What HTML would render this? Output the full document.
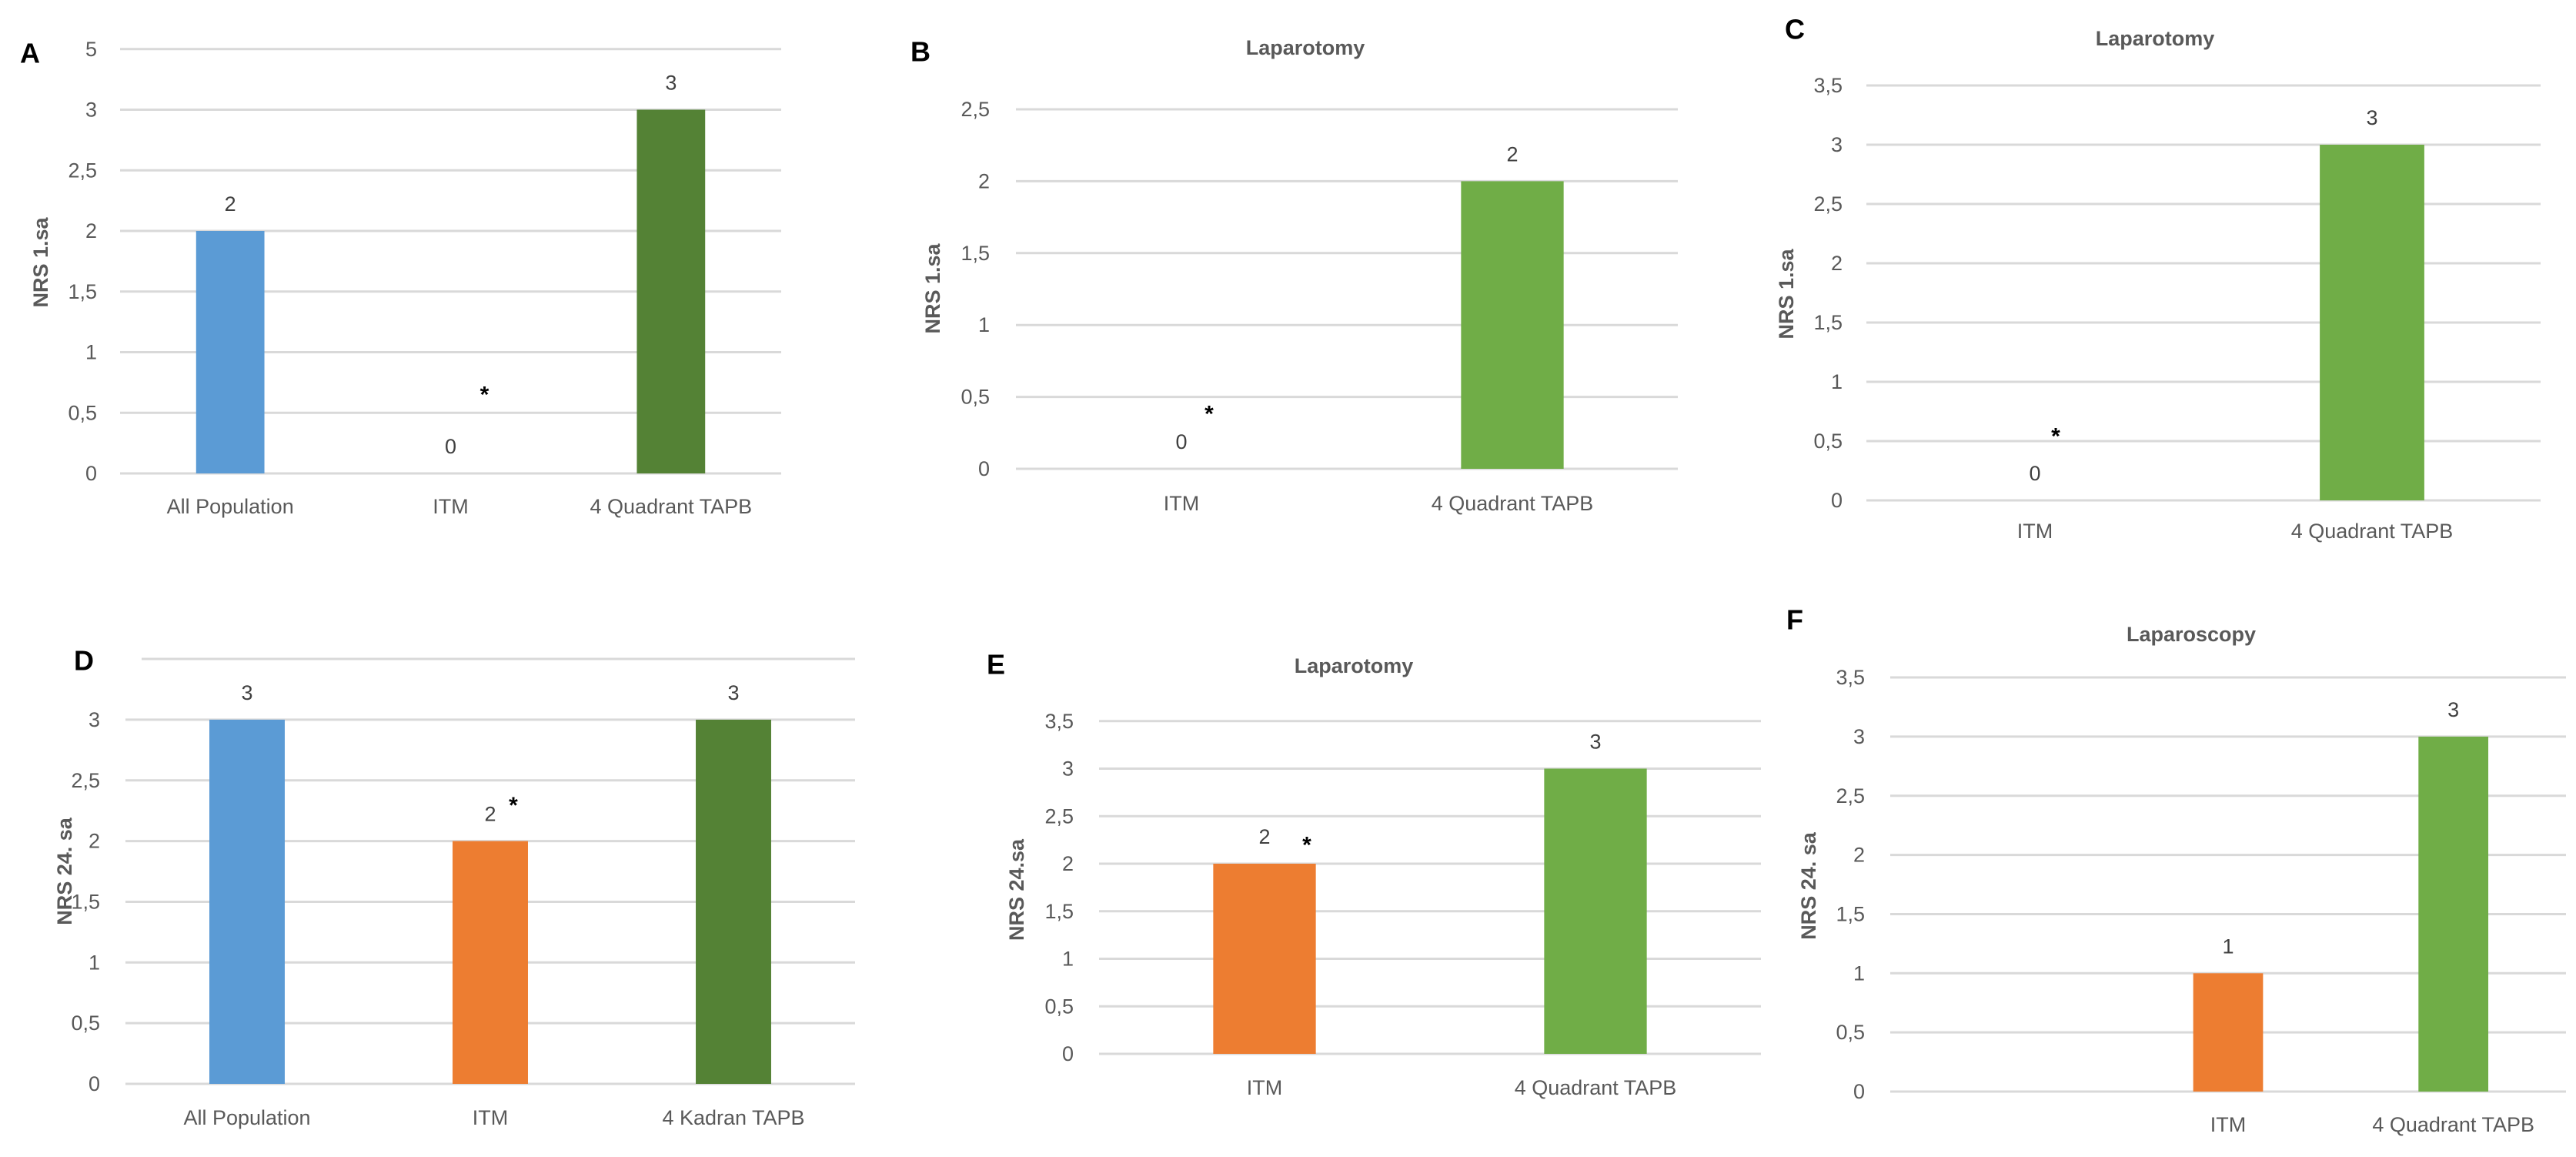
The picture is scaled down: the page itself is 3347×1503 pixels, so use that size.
<!DOCTYPE html>
<html><head><meta charset="utf-8"><title>NRS panels</title>
<style>
html,body{margin:0;padding:0;background:#fff;}
svg{display:block;font-family:"Liberation Sans",sans-serif;}
</style></head>
<body>
<svg id="fig" width="3347" height="1503" viewBox="0 0 3347 1503" xmlns="http://www.w3.org/2000/svg"></svg>
<script>
// ---- data ----
const aCats = ["All Population", "ITM", "4  Quadrant TAPB"];
const aVals = [2, 0, 3];
const aTickVals = [0, 0.5, 1, 1.5, 2, 2.5, 3, 3.5];
const aTickLabels = ["0", "0,5", "1", "1,5", "2", "2,5", "3", "5"];

const bCats = ["ITM", "4 Quadrant TAPB"];
const bVals = [0, 2];
const bTickVals = [0, 0.5, 1, 1.5, 2, 2.5];
const bTickLabels = ["0", "0,5", "1", "1,5", "2", "2,5"];

const cCats = ["ITM", "4 Quadrant TAPB"];
const cVals = [0, 3];
const cTickVals = [0, 0.5, 1, 1.5, 2, 2.5, 3, 3.5];
const cTickLabels = ["0", "0,5", "1", "1,5", "2", "2,5", "3", "3,5"];

const dCats = ["All Population", "ITM", "4 Kadran TAPB"];
const dVals = [3, 2, 3];
const dTickVals = [0, 0.5, 1, 1.5, 2, 2.5, 3, 3.5];
const dTickLabels = ["0", "0,5", "1", "1,5", "2", "2,5", "3", ""];

const eCats = ["ITM", "4 Quadrant TAPB"];
const eVals = [2, 3];
const eTickVals = [0, 0.5, 1, 1.5, 2, 2.5, 3, 3.5];
const eTickLabels = ["0", "0,5", "1", "1,5", "2", "2,5", "3", "3,5"];

const fCats = ["", "ITM", "4 Quadrant TAPB"];
const fVals = [null, 1, 3];
const fTickVals = [0, 0.5, 1, 1.5, 2, 2.5, 3, 3.5];
const fTickLabels = ["0", "0,5", "1", "1,5", "2", "2,5", "3", "3,5"];

// ---- layout / style ----
const BLUE = "#5B9BD5", ORANGE = "#ED7D31", DKGREEN = "#548235", GREEN = "#70AD47";
const panels = [
  {id:"a", cats:aCats, vals:aVals, tv:aTickVals, tl:aTickLabels, colors:[BLUE,BLUE,DKGREEN],
   x0:156, x1:1015, yBase:615, unit:157.5, tickX:126, xLabY:658, letter:"A", lx:39, ly:69,
   title:"", yTitle:"NRS 1.sa", ytx:53, yty:341, star:[1, 44, -75], gridX0:null, gridTopX:null},
  {id:"b", cats:bCats, vals:bVals, tv:bTickVals, tl:bTickLabels, colors:[GREEN,GREEN],
   x0:1320, x1:2180, yBase:609, unit:186.8, tickX:1286, xLabY:654, letter:"B", lx:1196, ly:67,
   title:"Laparotomy", tx:1696, ty:62, yTitle:"NRS 1.sa", ytx:1212, yty:375, star:[0, 36, -44]},
  {id:"c", cats:cCats, vals:cVals, tv:cTickVals, tl:cTickLabels, colors:[GREEN,GREEN],
   x0:2425, x1:3301, yBase:650, unit:154, tickX:2394, xLabY:690, letter:"C", lx:2332, ly:38,
   title:"Laparotomy", tx:2800, ty:50, yTitle:"NRS 1.sa", ytx:2321, yty:382, star:[0, 27, -56]},
  {id:"d", cats:dCats, vals:dVals, tv:dTickVals, tl:dTickLabels, colors:[BLUE,ORANGE,DKGREEN],
   x0:163, x1:1111, yBase:1408, unit:157.7, tickX:130, xLabY:1452, letter:"D", lx:109, ly:858,
   title:"", yTitle:"NRS 24. sa", ytx:84, yty:1132, star:[1, 30, -19], topGridX0:184},
  {id:"e", cats:eCats, vals:eVals, tv:eTickVals, tl:eTickLabels, colors:[ORANGE,GREEN],
   x0:1428, x1:2288, yBase:1369, unit:123.5, tickX:1395, xLabY:1413, letter:"E", lx:1294, ly:863,
   title:"Laparotomy", tx:1759, ty:865, yTitle:"NRS 24.sa", ytx:1321, yty:1156, star:[0, 55, 3]},
  {id:"f", cats:fCats, vals:fVals, tv:fTickVals, tl:fTickLabels, colors:[ORANGE,ORANGE,GREEN],
   x0:2456, x1:3334, yBase:1418, unit:153.7, tickX:2423, xLabY:1461, letter:"F", lx:2332, ly:805,
   title:"Laparoscopy", tx:2847, ty:824, yTitle:"NRS 24. sa", ytx:2350, yty:1151, star:null}
];

const NS = "http://www.w3.org/2000/svg";
const svg = document.getElementById("fig");
function mk(tag, attrs, parent){
  const e = document.createElementNS(NS, tag);
  for (const k in attrs) e.setAttribute(k, attrs[k]);
  parent.appendChild(e);
  return e;
}

panels.forEach(p => {
  const g = mk("g", {}, svg);
  
  
  const yScale = v => p.yBase - v * p.unit;
  const bandW = (p.x1 - p.x0) / p.cats.length;
  const xCenter = i => p.x0 + bandW * (i + 0.5);

  // gridlines + tick labels
  p.tv.forEach((v, i) => {
    const y = yScale(v);
    const gx0 = (i === p.tv.length - 1 && p.topGridX0) ? p.topGridX0 : p.x0;
    const ln = mk("line", {x1:gx0, x2:p.x1, y1:y, y2:y, stroke:"#d9d9d9", "stroke-width":3}, g);
    
    
    if (p.tl[i] !== "") {
      const t = mk("text", {x:p.tickX, y:y, "text-anchor":"end", "dominant-baseline":"central",
        "font-size":27, fill:"#595959"}, g);
      t.textContent = p.tl[i];
      
      
    }
  });

  // bars, value labels, category labels
  p.cats.forEach((c, i) => {
    const cx = xCenter(i);
    const v = p.vals[i];
    if (v !== null && v !== undefined) {
      const bw = bandW * 0.31;
      const top = yScale(v);
      if (v > 0) {
        const r = mk("rect", {x:cx - bw/2, y:top, width:bw, height:p.yBase - top, fill:p.colors[i]}, g);
        
        
      }
      const vl = mk("text", {x:cx, y:top - 35, "text-anchor":"middle", "dominant-baseline":"central",
        "font-size":27, fill:"#404040"}, g);
      vl.textContent = String(v);
      
      
      if (p.star && p.star[0] === i) {
        const s = mk("text", {x:cx + p.star[1], y:top - 35 + p.star[2] + 8, "text-anchor":"middle",
          "dominant-baseline":"central", "font-size":30, "font-weight":"bold", fill:"#000"}, g);
        s.textContent = "*";
        
        
      }
    }
    if (c !== "") {
      const xl = mk("text", {x:cx, y:p.xLabY, "text-anchor":"middle", "dominant-baseline":"central",
        "font-size":27, fill:"#595959"}, g);
      xl.textContent = c;
      
      
    }
  });

  // y-axis title
  const yt = mk("text", {x:0, y:0, transform:`translate(${p.ytx},${p.yty}) rotate(-90)`,
    "text-anchor":"middle", "dominant-baseline":"central", "font-size":27, "font-weight":"bold", fill:"#595959"}, g);
  yt.textContent = p.yTitle;
  
  

  // chart title
  if (p.title) {
    const tt = mk("text", {x:p.tx, y:p.ty, "text-anchor":"middle", "dominant-baseline":"central",
      "font-size":27, "font-weight":"bold", fill:"#595959"}, g);
    tt.textContent = p.title;
    
    
  }

  // panel letter
  const lt = mk("text", {x:p.lx, y:p.ly, "text-anchor":"middle", "dominant-baseline":"central",
    "font-size":36, "font-weight":"bold", fill:"#000"}, g);
  lt.textContent = p.letter;
  
  
});
</script>
</body></html>
